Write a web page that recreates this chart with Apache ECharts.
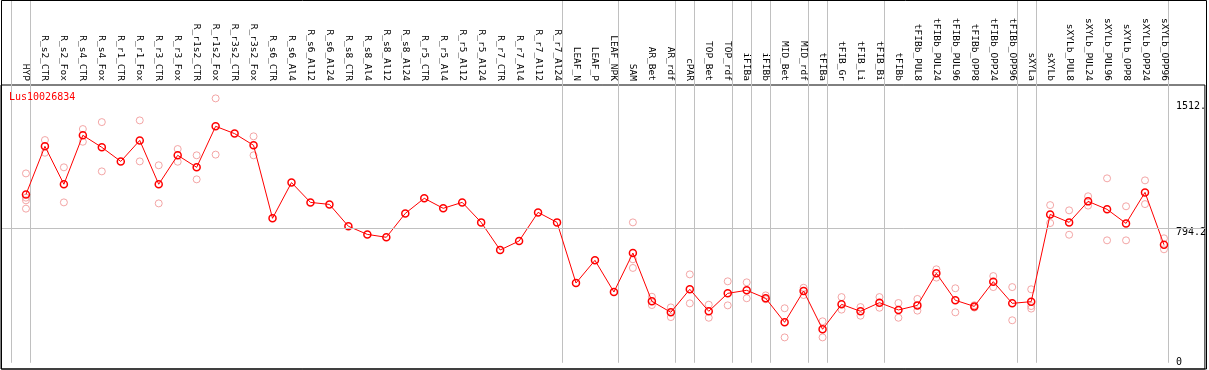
<!DOCTYPE html>
<html><head><meta charset="utf-8">
<script src="https://cdn.jsdelivr.net/npm/echarts@6/dist/echarts.min.js"></script>
<style>html,body{margin:0;padding:0;background:#fff}#c{width:1209px;height:370px}</style>
</head><body><div id="c"></div>
<script>
const geneName = 'Lus10026834';
const categories = ['HYP','R_s2_CTR','R_s2_Fox','R_s4_CTR','R_s4_Fox','R_r1_CTR','R_r1_Fox','R_r3_CTR','R_r3_Fox','R_r1s2_CTR','R_r1s2_Fox','R_r3s2_CTR','R_r3s2_Fox','R_s6_CTR','R_s6_Al4','R_s6_Al12','R_s6_Al24','R_s8_CTR','R_s8_Al4','R_s8_Al12','R_s8_Al24','R_r5_CTR','R_r5_Al4','R_r5_Al12','R_r5_Al24','R_r7_CTR','R_r7_Al4','R_r7_Al12','R_r7_Al24','LEAF_N','LEAF_P','LEAF_NPK','SAM','AR_Bet','AR_rdf','cPAR','TOP_Bet','TOP_rdf','iFIBa','iFIBb','MID_Bet','MID_rdf','tFIBa','tFIB_Gr','tFIB_Li','tFIB_Bi','tFIBb','tFIBb_PUL8','tFIBb_PUL24','tFIBb_PUL96','tFIBb_OPP8','tFIBb_OPP24','tFIBb_OPP96','sXYLa','sXYLb','sXYLb_PUL8','sXYLb_PUL24','sXYLb_PUL96','sXYLb_OPP8','sXYLb_OPP24','sXYLb_OPP96'];
const means = [994,1278,1054,1343,1272,1189,1313,1054,1225,1154,1396,1353,1284,853,1064,947,935,806,758,741,882,971,912,947,829,666,719,888,829,471,605,418,648,363,298,434,304,410,428,381,239,424,198,345,304,355,312,339,528,369,333,479,351,361,876,829,953,906,823,1006,697];
const replicates = [
  [1118,975,959,910],[1315,1240],[1154,947],[1380,1305],[1421,1130],[],[1431,1189],[1166,941],[1262,1187],[1225,1083],
  [1561,1229],[],[1337,1225],[],[],[],[],[],[],[],
  [],[],[],[],[],[],[],[],[],[],
  [],[],[829,611,560],[390,341],[327,270],[522,351],[343,266],[481,339],[475,381],[398,375],
  [322,150],[443,400],[245,150],[388,314],[329,278],[388,325],[353,266],[377,308],[552,503],[440,298],
  [340,326],[512,447],[447,251],[434,335,320],[931,825],[900,756],[983,928],[1089,723],[924,723],[1077,937],
  [735,670]
];
const groupEnds = [-1,0,28,31,34,35,37,38,39,41,42,45,52,53,60];
const yTickValues = [0, 794.2, 1512];
const yTickLabels = ['0', '794.2', '1512.'];

const chart = echarts.init(document.getElementById('c'), null, {renderer: 'canvas'});
const meanData = means.map((v, i) => [i, v]);
const repData = [];
replicates.forEach((arr, i) => arr.forEach(v => repData.push([i, v])));
const mono = 'DejaVu Sans Mono';
const xMin = -25 / 19, xMax = 1181 / 19;

const option = {
  animation: false,
  backgroundColor: '#fff',
  title: {text: geneName, left: 9, top: 92, padding: 0,
    textStyle: {color: '#ff0000', fontFamily: mono, fontSize: 10, fontWeight: 'normal'}},
  grid: {left: 1, right: 2, top: 85, bottom: 1, show: true, borderColor: '#000', borderWidth: 1},
  xAxis: [
    {type: 'value', position: 'bottom', min: xMin, max: xMax,
      axisLine: {show: false}, splitLine: {show: false}, axisLabel: {show: false},
      axisTick: {show: true, inside: true, length: 369, customValues: groupEnds.map(k => k + 0.25),
        lineStyle: {color: '#c0c0c0', width: 1}}},
    {type: 'value', position: 'top', min: xMin, max: xMax,
      axisLine: {show: false}, splitLine: {show: false}, axisTick: {show: false},
      axisLabel: {customValues: categories.map((_, i) => i), formatter: v => categories[Math.round(v)],
        rotate: 90, margin: 4, fontFamily: mono, fontSize: 9.5, color: '#000', hideOverlap: false}}
  ],
  yAxis: {type: 'value', position: 'right', min: -36.6, max: 1640,
    axisLine: {show: false}, axisTick: {show: false}, splitLine: {show: false},
    axisLabel: {inside: true, customValues: yTickValues, align: 'left', margin: 29,
      formatter: v => {
        const t = yTickLabels[yTickValues.indexOf(v)];
        return v === yTickValues[1] ? '{lo|' + t + '}' : t;
      },
      rich: {lo: {padding: [9, 0, 0, 0], fontFamily: mono, fontSize: 10, color: '#000'}},
      fontFamily: mono, fontSize: 10, color: '#000'}},
  graphic: [{type: 'rect', silent: true, z: 100,
    shape: {x: 1.5, y: 0.5, width: 1205, height: 368.5},
    style: {fill: null, stroke: '#000', lineWidth: 1}}],
  series: [
    {type: 'scatter', name: 'replicates', data: repData, symbol: 'circle', symbolSize: 7, z: 2,
      itemStyle: {color: 'transparent', borderColor: '#f09090', borderWidth: 1}},
    {type: 'line', name: 'mean', data: meanData, symbol: 'circle', symbolSize: 7, z: 3,
      showAllSymbol: true,
      lineStyle: {color: '#ff0000', width: 1},
      itemStyle: {color: 'transparent', borderColor: '#ff0000', borderWidth: 1.5},
      markLine: {silent: true, symbol: 'none', label: {show: false}, animation: false,
        lineStyle: {color: '#c0c0c0', type: 'solid', width: 1},
        data: [{yAxis: yTickValues[1]}]}}
  ]
};
chart.setOption(option);
</script></body></html>
